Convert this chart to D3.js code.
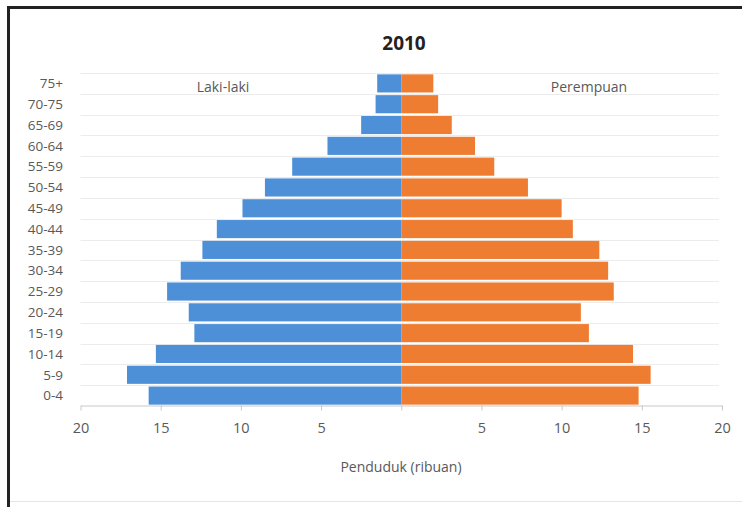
<!DOCTYPE html>
<html>
<head>
<meta charset="utf-8">
<script src="https://cdn.jsdelivr.net/npm/d3@7/dist/d3.min.js"></script>
<style>
  html, body { margin: 0; padding: 0; background: #fff; }
  svg { display: block; }
  text { font-family: "Open Sans", "Noto Sans", sans-serif; fill: #595959; }
</style>
</head>
<body>
<svg id="chart" width="742" height="507"></svg>
<script>
// Data (ribuan / thousands)
const ageGroups = ["75+", "70-75", "65-69", "60-64", "55-59", "50-54", "45-49", "40-44",
                   "35-39", "30-34", "25-29", "20-24", "15-19", "10-14", "5-9", "0-4"];
const male   = [1.5, 1.6, 2.5, 4.6, 6.8, 8.5, 9.9, 11.5, 12.4, 13.75, 14.6, 13.25, 12.9, 15.3, 17.1, 15.75];
const female = [2.0, 2.3, 3.15, 4.6, 5.8, 7.9, 10.0, 10.7, 12.35, 12.9, 13.25, 11.2, 11.7, 14.45, 15.55, 14.8];
const tickValues = [-20, -15, -10, -5, 0, 5, 10, 15, 20];
const tickLabels = ["20", "15", "10", "5", "", "5", "10", "15", "20"];
const title = "2010";
const maleLabel = "Laki-laki";
const femaleLabel = "Perempuan";
const axisTitle = "Penduduk (ribuan)";

const svg = d3.select("#chart");

// Frame
svg.append("line").attr("x1", 7).attr("x2", 742).attr("y1", 7.5).attr("y2", 7.5)
  .attr("stroke", "#222").attr("stroke-width", 3);
svg.append("line").attr("x1", 8.5).attr("x2", 8.5).attr("y1", 6).attr("y2", 507)
  .attr("stroke", "#222").attr("stroke-width", 3);
svg.append("line").attr("x1", 10).attr("x2", 742).attr("y1", 501.5).attr("y2", 501.5)
  .attr("stroke", "#e4e4e4").attr("stroke-width", 1);

const x = d3.scaleLinear().domain([-20, 20]).range([80.5, 722]);
const y = d3.scaleBand().domain(ageGroups).range([73, 406]).paddingInner(0.13).paddingOuter(0.065);

// Gridlines at category boundaries
const step = y.step();
const boundaries = d3.range(ageGroups.length).map(i => 73 + i * step);
svg.append("g").selectAll("line").data(boundaries).join("line")
  .attr("x1", x(-20)).attr("x2", x(19.8))
  .attr("y1", d => Math.round(d) + 0.5).attr("y2", d => Math.round(d) + 0.5)
  .attr("stroke", "#ececec").attr("stroke-width", 1);

// Bars
svg.append("g").selectAll("rect").data(ageGroups).join("rect")
  .attr("x", (d, i) => x(-male[i]))
  .attr("y", d => y(d))
  .attr("width", (d, i) => x(0) - x(-male[i]))
  .attr("height", y.bandwidth())
  .attr("fill", "#4d90d8");
svg.append("g").selectAll("rect").data(ageGroups).join("rect")
  .attr("x", x(0))
  .attr("y", d => y(d))
  .attr("width", (d, i) => x(female[i]) - x(0))
  .attr("height", y.bandwidth())
  .attr("fill", "#ee7d31");

// Category labels
svg.append("g").selectAll("text").data(ageGroups).join("text")
  .attr("x", 63)
  .attr("y", d => y(d) + y.bandwidth() / 2)
  .attr("dy", "0.35em")
  .attr("text-anchor", "end")
  .attr("font-size", 13.5)
  .text(d => d);

// X axis
const xAxis = d3.axisBottom(x)
  .tickValues(tickValues)
  .tickFormat((d, i) => tickLabels[i])
  .tickSize(5)
  .tickSizeOuter(0)
  .tickPadding(12);
const gx = svg.append("g").attr("transform", "translate(0,405.5)").call(xAxis);
gx.select(".domain").attr("stroke", "#c8c8c8");
gx.selectAll(".tick line").attr("stroke", "#c8c8c8");
gx.selectAll(".tick text").attr("font-size", 14.5).attr("fill", "#595959")
  .attr("font-family", "\"Open Sans\", sans-serif");

// Title
svg.append("text").attr("x", 404).attr("y", 50).attr("text-anchor", "middle")
  .attr("font-size", 19).attr("font-weight", "bold").style("fill", "#222")
  .text(title);

// Series labels
svg.append("text").attr("x", 223).attr("y", 92).attr("text-anchor", "middle")
  .attr("font-size", 14).text(maleLabel);
svg.append("text").attr("x", 589).attr("y", 92).attr("text-anchor", "middle")
  .attr("font-size", 14).text(femaleLabel);

// Axis title
svg.append("text").attr("x", 401).attr("y", 472).attr("text-anchor", "middle")
  .attr("font-size", 14).text(axisTitle);
</script>
</body>
</html>
